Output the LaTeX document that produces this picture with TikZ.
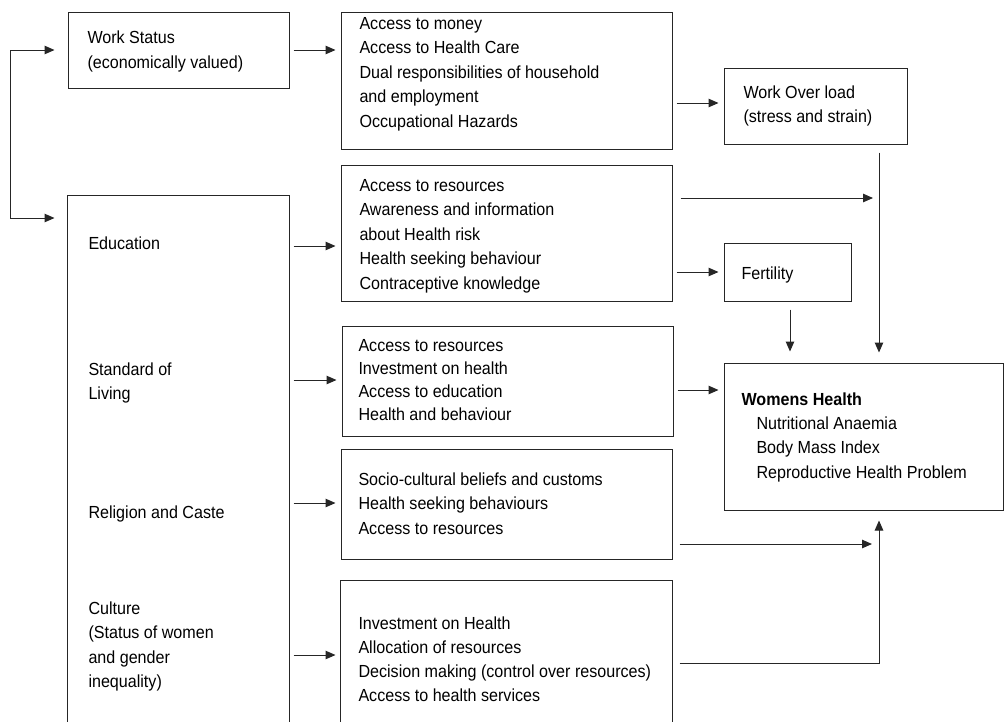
\documentclass[tikz,border=0pt]{standalone}
\usepackage{fontspec}
\setmainfont{Liberation Sans}[FakeStretch=0.92]
\usetikzlibrary{arrows.meta}
\newcommand\mlines[2][24.5]{{\fontsize{17.5}{#1}\selectfont\begin{tabular}[t]{@{}l@{}}#2\end{tabular}}}
\begin{document}
\begin{tikzpicture}[x=1pt,y=-1pt,line width=1pt,
  box/.style={draw=black!85,rectangle,inner sep=0pt},
  openbox/.style={draw=none,rectangle,inner sep=0pt},
  txt/.style={anchor=base west,inner sep=0pt},
  arr/.style={draw=black!85,-{Triangle[length=10pt,width=8.5pt]},shorten <=4pt,shorten >=5pt}]
\useasboundingbox (0,0) rectangle (1004,721);
\fill[white] (0,0) rectangle (1004,721);
% boxes
\node[box,minimum width=221,minimum height=76] (ws) at (178.5,50) {};
\node[openbox,minimum width=221,minimum height=528] (big) at (178.5,460) {};
\draw[black!85] (big.south west) -- (big.north west) -- (big.north east) -- (big.south east);
\node[box,minimum width=331,minimum height=137] (b2) at (506.5,80.5) {};
\node[box,minimum width=331,minimum height=136] (b3) at (506.5,233) {};
\node[box,minimum width=331,minimum height=110] (b4) at (507.5,381) {};
\node[box,minimum width=331,minimum height=110] (b5) at (506.5,504) {};
\node[openbox,minimum width=331,minimum height=144] (b6) at (506.5,653) {};
\draw[black!85] (b6.south west) -- (b6.north west) -- (b6.north east) -- (b6.south east);
\node[box,minimum width=183,minimum height=76] (wol) at (815.5,106) {};
\node[box,minimum width=127,minimum height=58] (fert) at (787.5,272) {};
\node[box,minimum width=279,minimum height=147] (wh) at (863.5,436.5) {};
% texts
\node[txt] (tws) at (87,43) {\mlines[25]{Work Status\\(economically valued)}};
\node[txt] (t2) at (359,29) {\mlines{Access to money\\Access to Health Care\\Dual responsibilities of household\\and employment\\Occupational Hazards}};
\node[txt] (t3) at (359,191) {\mlines{Access to resources\\Awareness and information\\about Health risk\\Health seeking behaviour\\Contraceptive knowledge}};
\node[txt] (t4) at (358,351) {\mlines[23]{Access to resources\\Investment on health\\Access to education\\Health and behaviour}};
\node[txt] (t5) at (358,485) {\mlines{Socio-cultural beliefs and customs\\Health seeking behaviours\\Access to resources}};
\node[txt] (t6) at (358,629) {\mlines[24]{Investment on Health\\Allocation of resources\\Decision making (control over resources)\\Access to health services}};
\node[txt] (twol) at (743,98) {\mlines[24]{Work Over load\\(stress and strain)}};
\node[txt] (tfert) at (741,279) {\mlines{Fertility}};
\node[txt] (twh) at (741,405) {\mlines{\textbf{Womens Health}}};
\node[txt] (twhi) at (756,429) {\mlines{Nutritional Anaemia\\Body Mass Index\\Reproductive Health Problem}};
\node[txt] (tedu) at (88,249) {\mlines{Education}};
\node[txt] (tsol) at (88,375) {\mlines[24]{Standard of\\Living}};
\node[txt] (trel) at (88,518) {\mlines{Religion and Caste}};
\node[txt] (tcul) at (88,614) {\mlines[24.5]{Culture\\(Status of women\\and gender\\inequality)}};
% trunk coordinates
\coordinate (tx) at (879,0);
\coordinate (fx) at (790,0);
% connectors
\draw[arr,{Triangle[length=10pt,width=8.5pt]}-{Triangle[length=10pt,width=8.5pt]},shorten <=13pt,shorten >=13pt]
  (ws.west) -- ++(-57,0) |- (big.west |- 0,218);
\draw[arr] (ws.east) -- (b2.west |- ws.east);
\draw[arr] (b2.east |- 0,103) -- (wol.west |- 0,103);
\draw[arr,shorten <=8pt,shorten >=10pt] (wol.south -| tx) -- (wh.north -| tx);
\draw[arr,shorten <=8pt,shorten >=6pt] (b3.east |- 0,198) -- (tx |- 0,198);
\draw[arr] (b3.east |- fert.west) -- (fert.west);
\draw[arr,shorten <=8pt,shorten >=11pt] (fert.south -| fx) -- (wh.north -| fx);
\draw[arr] (b4.east |- 0,390) -- (wh.west |- 0,390);
\draw[arr,shorten <=7pt,shorten >=7pt] (b5.east |- 0,544) -- (tx |- 0,544);
\draw[arr,shorten <=7pt,shorten >=10pt] (b6.east |- 0,663) -| (wh.south -| tx);
\draw[arr] (big.east |- 0,246) -- (b3.west |- 0,246);
\draw[arr] (big.east |- 0,380) -- (b4.west |- 0,380);
\draw[arr] (big.east |- 0,503) -- (b5.west |- 0,503);
\draw[arr] (big.east |- 0,655) -- (b6.west |- 0,655);
\end{tikzpicture}
\end{document}
